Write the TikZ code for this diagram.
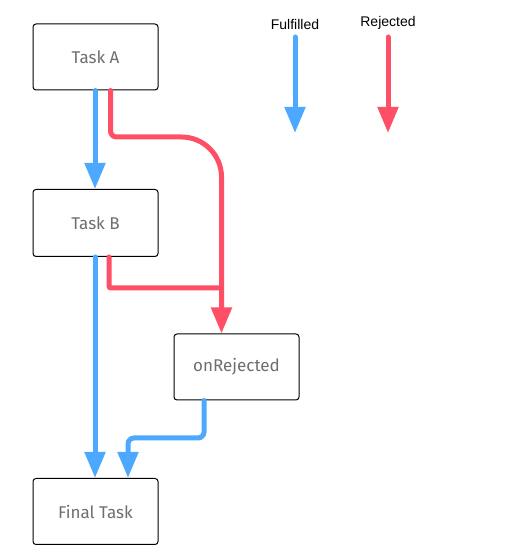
\documentclass[tikz,border=0pt]{standalone}
\usepackage{fontspec}
\setmainfont{Fira Sans}
\newfontfamily\legendfont{Liberation Sans}
\usetikzlibrary{arrows.meta}
\definecolor{fulblue}{HTML}{4DA8FF}
\definecolor{rejred}{HTML}{FF4F66}
\definecolor{txtgray}{HTML}{6E6E6E}
\begin{document}
\begin{tikzpicture}[x=1pt,y=1pt,
  task/.style={draw=black, line width=1pt, rounded corners=3pt, minimum width=125pt, minimum height=66pt, inner sep=0pt, text=txtgray, font=\fontsize{17}{19}\selectfont},
  flow/.style={line width=5pt, line cap=round, -{Triangle[width=20pt,length=26pt]}},
  fulf/.style={flow, draw=fulblue},
  rej/.style={flow, draw=rejred},
  legend/.style={font=\legendfont\fontsize{14}{16}\selectfont, text=black, inner sep=0pt}]
\useasboundingbox (0,0) rectangle (520,546);
\node[task] (A) at (95.5,489) {Task A};
\node[task, minimum height=67pt] (B) at (95.5,323) {Task B};
\node[task] (R) at (236.5,179) {onRejected};
\node[task, minimum height=66pt] (F) at (95.5,34.5) {Final Task};
% legend
\node[legend] (lf) at (295,521) {Fulfilled};
\node[legend] (lr) at (388,523) {Rejected};
\coordinate (lfs) at (295,509);
\coordinate (lfe) at (295,413);
\coordinate (lrs) at (388,509);
\coordinate (lre) at (388,413);
\draw[fulf] (lfs) -- (lfe);
\draw[rej] (lrs) -- (lre);
% Task A -> Task B
\draw[fulf] ([xshift=-0.5pt]A.south) -- ([xshift=-0.5pt]B.north);
% Task A rejected -> onRejected
\coordinate (ra) at ([xshift=15pt]A.south);
\coordinate (rin) at ([xshift=-15pt]R.north);
\draw[rej] (ra) -- (110.5,415) arc[start angle=180, end angle=270, radius=6pt] -- (181.5,409) arc[start angle=90, end angle=0, radius=40pt] -- (rin);
% Task B rejected -> join
\coordinate (rb) at ([xshift=13.5pt]B.south);
\coordinate (rj) at (221.5,258);
\draw[line width=5pt, line cap=round, draw=rejred, rounded corners=2pt] (rb) -- (109,258) -- (rj);
% Task B -> Final Task
\draw[fulf] ([xshift=-0.5pt]B.south) -- ([xshift=-0.5pt]F.north);
% onRejected -> Final Task
\coordinate (rs) at ([xshift=-32.5pt]R.south);
\coordinate (fin) at ([xshift=32.5pt]F.north);
\draw[fulf, rounded corners=6pt] (rs) -- (204,108) -- (128,108) -- (fin);
\end{tikzpicture}
\end{document}
